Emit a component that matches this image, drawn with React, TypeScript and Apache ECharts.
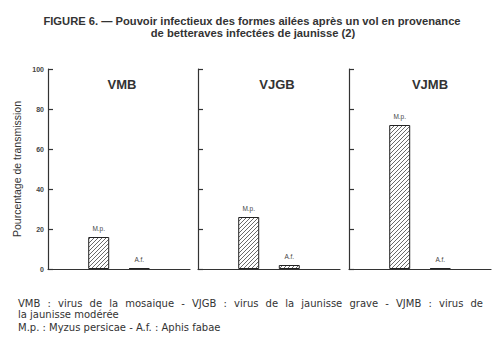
import React, { useEffect, useRef } from "react";
import * as echarts from "echarts";

const viruses = ["VMB", "VJGB", "VJMB"];
const aphids = ["M.p.", "A.f."];
const mpValues = [16, 26, 72];
const afValues = [0.5, 2, 0.5];
const yTicks = [0, 20, 40, 60, 80, 100];
const slotCount = 7;
const aphidSlots = [2, 4];

const titleLine1 = "FIGURE 6. — Pouvoir infectieux des formes ailées après un vol en provenance";
const titleLine2 = "de betteraves infectées de jaunisse (2)";
const footer1 = "VMB : virus de la mosaique - VJGB : virus de la jaunisse grave - VJMB : virus de";
const footer2 = "la jaunisse modérée";
const footer3 = "M.p. : Myzus persicae - A.f. : Aphis fabae";
const yName = "Pourcentage de transmission";

const gridLefts = [48, 198, 349];
const gridWidth = 142;

function makeHatch(): string {
  const c = document.createElement("canvas");
  c.width = 4;
  c.height = 4;
  const ctx = c.getContext("2d")!;
  ctx.fillStyle = "#ffffff";
  ctx.fillRect(0, 0, 4, 4);
  ctx.strokeStyle = "#444";
  ctx.lineWidth = 0.8;
  ctx.beginPath();
  ctx.moveTo(0, 4);
  ctx.lineTo(4, 0);
  ctx.moveTo(-1, 1);
  ctx.lineTo(1, -1);
  ctx.moveTo(3, 5);
  ctx.lineTo(5, 3);
  ctx.stroke();
  return c.toDataURL();
}

function justifiedWords(text: string, font: string, x0: number, x1: number, y: number, fill: string) {
  const c = document.createElement("canvas");
  const ctx = c.getContext("2d")!;
  ctx.font = font;
  const words = text.split(" ");
  const widths = words.map((w) => ctx.measureText(w).width);
  const total = widths.reduce((a, b) => a + b, 0);
  const gap = (x1 - x0 - total) / (words.length - 1);
  let x = x0;
  return words.map((w, i) => {
    const el = {
      type: "text",
      x,
      y,
      style: { text: w, font, fill, textVerticalAlign: "middle" },
    };
    x += widths[i] + gap;
    return el;
  });
}

export default function App() {
  const ref = useRef<HTMLDivElement>(null);
  useEffect(() => {
    if (!ref.current) return;
    const chart = echarts.init(ref.current, null, { renderer: "svg" });
    const hatch = makeHatch();
    const font = "'Liberation Sans', Arial, sans-serif";
    const footFont = `10px 'DejaVu Sans', sans-serif`;
    const cats = Array.from({ length: slotCount }, (_, i) => {
      const k = aphidSlots.indexOf(i);
      return k >= 0 ? aphids[k] : "s" + i;
    });

    const grids = viruses.map((_, i) => ({
      left: gridLefts[i],
      width: gridWidth,
      top: 69,
      height: 200,
    }));
    const xAxes = viruses.map((_, i) => ({
      type: "category" as const,
      gridIndex: i,
      data: cats,
      axisLine: { show: true, lineStyle: { color: "#333", width: 1.2 } },
      axisTick: { show: false },
      axisLabel: { show: false },
    }));
    const yAxes = viruses.map((_, i) => ({
      type: "value" as const,
      gridIndex: i,
      min: yTicks[0],
      max: yTicks[yTicks.length - 1],
      interval: 20,
      name: i === 0 ? yName : "",
      nameLocation: "middle" as const,
      nameGap: 26,
      nameTextStyle: { fontFamily: font, fontSize: 10.5, color: "#333" },
      axisLine: { show: true, lineStyle: { color: "#333", width: 1.2 } },
      axisTick: { show: true, inside: true, length: 5, lineStyle: { color: "#333", width: 1.2 } },
      axisLabel: {
        show: i === 0,
        fontSize: 7,
        fontWeight: "bold" as const,
        fontFamily: font,
        color: "#444",
        margin: 4,
      },
      splitLine: { show: false },
    }));
    const series = viruses.map((_, i) => ({
      type: "bar" as const,
      xAxisIndex: i,
      yAxisIndex: i,
      barWidth: 21,
      data: cats.map((_, s) => {
        const k = aphidSlots.indexOf(s);
        if (k < 0) return "-";
        return k === 0 ? mpValues[i] : afValues[i];
      }),
      itemStyle: {
        color: { image: hatch, repeat: "repeat" },
        borderColor: "#222",
        borderWidth: 1,
      },
      label: {
        show: true,
        position: "top" as const,
        distance: 5,
        formatter: (p: any) => p.name,
        fontSize: 6.5,
        fontFamily: font,
        color: "#444",
      },
    }));
    const panelTitleX = [122, 277, 430];
    const graphics: any[] = viruses.map((v, i) => ({
      type: "text",
      x: panelTitleX[i],
      y: 84,
      style: {
        text: v,
        font: `bold 13px ${font}`,
        fill: "#333",
        textAlign: "center",
        textVerticalAlign: "middle",
      },
    }));
    graphics.push(
      {
        type: "text",
        x: 252,
        y: 21,
        style: {
          text: titleLine1,
          font: `bold 11.2px ${font}`,
          fill: "#333",
          textAlign: "center",
          textVerticalAlign: "middle",
        },
      },
      {
        type: "text",
        x: 253,
        y: 33,
        style: {
          text: titleLine2,
          font: `bold 11.2px ${font}`,
          fill: "#333",
          textAlign: "center",
          textVerticalAlign: "middle",
        },
      },
      ...justifiedWords(footer1, footFont, 18, 483, 303, "#333"),
      {
        type: "text",
        x: 18,
        y: 314,
        style: { text: footer2, font: footFont, fill: "#333", textVerticalAlign: "middle" },
      },
      {
        type: "text",
        x: 18,
        y: 327,
        style: { text: footer3, font: footFont, fill: "#333", textVerticalAlign: "middle" },
      }
    );

    chart.setOption({
      animation: false,
      backgroundColor: "#ffffff",
      grid: grids,
      xAxis: xAxes,
      yAxis: yAxes,
      series,
      graphic: graphics,
    });
    return () => chart.dispose();
  }, []);
  return <div ref={ref} style={{ width: 500, height: 352, position: "absolute", left: 0, top: 0 }} />;
}
